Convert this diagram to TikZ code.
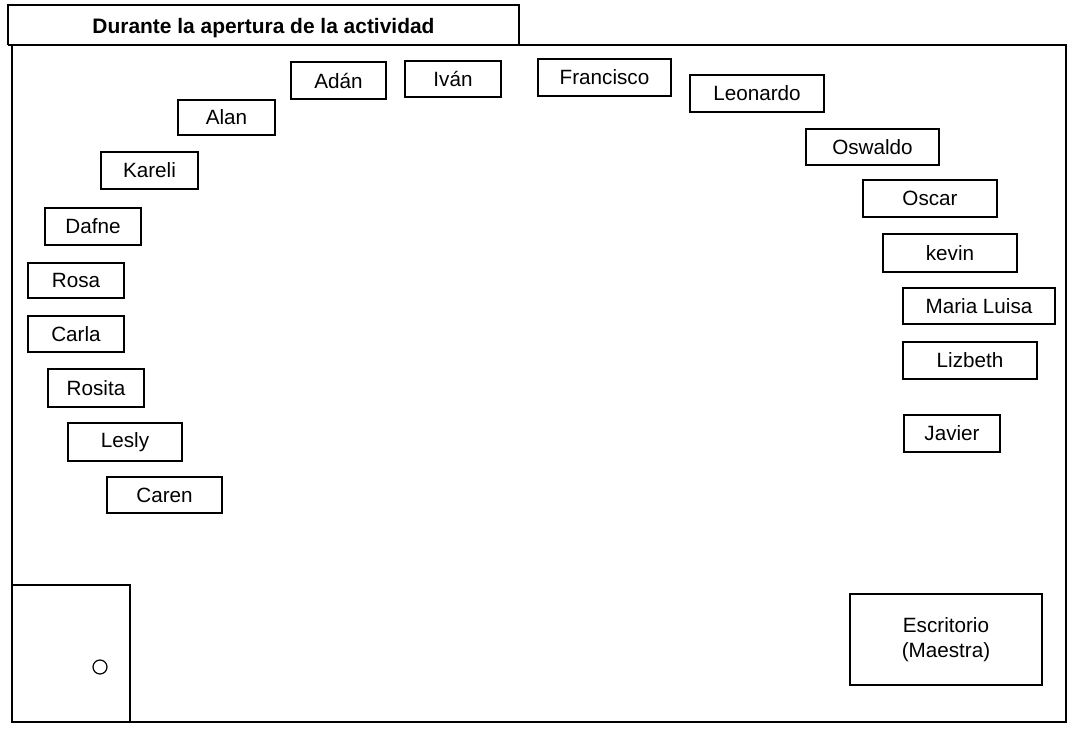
\documentclass[tikz,border=0pt]{standalone}
\usepackage{fontspec}
\setmainfont{Liberation Sans}
\begin{document}
\begin{tikzpicture}[x=0.75pt,y=-0.75pt,
  seat/.style={draw=black, line width=1pt, fill=white, inner sep=0pt, font=\fontsize{15.5}{18}\selectfont},
  bw/.style={minimum width=#1*0.75pt},
  bh/.style={minimum height=#1*0.75pt},
  wall/.style={draw=black, line width=1.2pt}]
\useasboundingbox (0,0) rectangle (1072,731);
% title box
\draw[wall] (8,45) -- (8,5) -- (519,5) -- (519,45);
\node[inner sep=0pt, font=\fontsize{15.7}{18}\selectfont\bfseries] (title) at (263.5,28) {Durante la apertura de la actividad};
% room frame
\coordinate (tl) at (12,45);
\coordinate (tr) at (1066,45);
\coordinate (br) at (1066,722);
\coordinate (bl) at (12,722);
\draw[wall] (8,45) -- (tr) -- (br) -- (bl) -- (tl);
% door
\coordinate (d1) at (12,585);
\coordinate (d2) at (130,585);
\coordinate (d3) at (130,722);
\draw[wall, line width=1pt] (d1) -- (d2) -- (d3);
\node[draw=black, line width=0.9pt, circle, minimum size=14*0.75pt, inner sep=0pt] (knob) at (100,667) {};
% seats
\node[seat, bw=95,  bh=37] (adan)      at (338.5,80.5) {Adán};
\node[seat, bw=96,  bh=36] (ivan)      at (453,79)     {Iván};
\node[seat, bw=133, bh=37] (francisco) at (604.5,77.5) {Francisco};
\node[seat, bw=134, bh=37] (leonardo)  at (757,93.5)   {Leonardo};
\node[seat, bw=97,  bh=35] (alan)      at (226.5,117.5){Alan};
\node[seat, bw=133, bh=36] (oswaldo)   at (872.5,147)  {Oswaldo};
\node[seat, bw=97,  bh=37] (kareli)    at (149.5,170.5){Kareli};
\node[seat, bw=134, bh=37] (oscar)     at (930,198.5)  {Oscar};
\node[seat, bw=96,  bh=37] (dafne)     at (93,226.5)   {Dafne};
\node[seat, bw=134, bh=38] (kevin)     at (950,253)    {kevin};
\node[seat, bw=96,  bh=35] (rosa)      at (76,280.5)   {Rosa};
\node[seat, bw=152, bh=36] (marialuisa) at (979,306)   {Maria Luisa};
\node[seat, bw=96,  bh=36] (carla)     at (76,334)     {Carla};
\node[seat, bw=134, bh=37] (lizbeth)   at (970,360.5)  {Lizbeth};
\node[seat, bw=96,  bh=38] (rosita)    at (96,388)     {Rosita};
\node[seat, bw=96,  bh=37] (javier)    at (952,433.5)  {Javier};
\node[seat, bw=114, bh=38] (lesly)     at (125,442)    {Lesly};
\node[seat, bw=115, bh=36] (caren)     at (164.5,495)  {Caren};
\node[seat, bw=192, bh=91, align=center, font=\fontsize{15.5}{19}\selectfont] (escritorio) at (946,639.5) {Escritorio\\(Maestra)};
\end{tikzpicture}
\end{document}
